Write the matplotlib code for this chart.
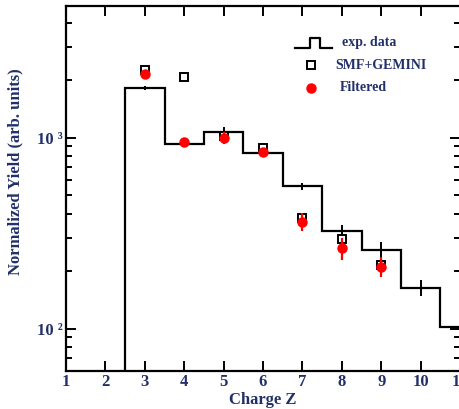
import numpy as np
import matplotlib.pyplot as plt
from matplotlib.ticker import FixedLocator, FuncFormatter, LogLocator, NullFormatter

# exp. data (histogram, one bin per charge)
z_exp = [3, 4, 5, 6, 7, 8, 9, 10, 11]
y_exp = [1830, 930, 1075, 834, 556, 326, 259, 164, 102]
err_exp = [45, 35, 60, 30, 25, 22, 25, 16, 8]

# SMF+GEMINI (open squares)
z_smf = [3, 4, 5, 6, 7, 8, 9]
y_smf = [2270, 2085, 1025, 889, 381, 296, 216]

# Filtered (red points)
z_filt = [3, 4, 5, 6, 7, 8, 9]
y_filt = [2160, 953, 1000, 845, 363, 265, 211]
err_filt = [60, 40, 70, 35, 40, 35, 25]

x_ticks = [1, 2, 3, 4, 5, 6, 7, 8, 9, 10, 11]

txt_col = '#22306a'
plt.rcParams['font.family'] = ['Liberation Serif', 'DejaVu Serif']
plt.rcParams['font.weight'] = 'bold'

fig = plt.figure(figsize=(4.59, 4.09), dpi=100)
ax = fig.add_axes([0.1438, 0.0929, 0.8584, 0.8924])

edges = np.array(z_exp + [z_exp[-1] + 1]) - 0.5
ax.stairs(y_exp, edges, baseline=1, color='black', lw=1.6, zorder=2)
ax.errorbar(z_exp, y_exp, yerr=err_exp, fmt='none', ecolor='black', elinewidth=1.4, capsize=0, zorder=2)

ax.plot(z_smf, y_smf, ls='none', marker='s', ms=6, mfc='white', mec='black', mew=1.4, zorder=3)
ax.errorbar(z_filt, y_filt, yerr=err_filt, fmt='o', color='red', ms=6.5, elinewidth=1.6, capsize=0, zorder=4)

ax.set_yscale('log')
ax.set_xlim(1, 11)
ax.set_ylim(60, 4900)

ax.xaxis.set_major_locator(FixedLocator(x_ticks))
ax.yaxis.set_major_locator(FixedLocator([100, 1000]))
ax.yaxis.set_minor_locator(LogLocator(base=10, subs=np.arange(2, 10)))
ax.yaxis.set_minor_formatter(NullFormatter())
sup = {2: '\u00b2', 3: '\u00b3'}
ax.yaxis.set_major_formatter(FuncFormatter(lambda v, p: '10 ' + sup[int(round(np.log10(v)))]))

ax.tick_params(which='both', direction='in', top=True, right=True, colors='black',
               labelcolor=txt_col, labelsize=12, width=1.4)
ax.tick_params(which='major', length=7, pad=2)
ax.tick_params(which='minor', length=4)
for lab in ax.get_xticklabels() + ax.get_yticklabels():
    lab.set_fontweight('bold')
for s in ax.spines.values():
    s.set_linewidth(1.6)

ax.set_xlabel('Charge Z', fontsize=12, fontweight='bold', color=txt_col)
ax.xaxis.set_label_coords(0.5, -0.057)
ax.set_ylabel('Normalized Yield (arb. units)', fontsize=12, fontweight='bold', color=txt_col)
ax.yaxis.set_label_coords(-0.107, 0.545)

# legend drawn by hand
tr = ax.transAxes
ax.plot([0.581, 0.619, 0.619, 0.645, 0.645, 0.675], [0.885, 0.885, 0.912, 0.912, 0.885, 0.885],
        color='black', lw=1.6, transform=tr, clip_on=False)
ax.plot([0.622], [0.838], marker='s', ms=6, mfc='white', mec='black', mew=1.4, transform=tr)
ax.plot([0.622], [0.776], marker='o', ms=6.5, color='red', transform=tr)
ax.text(0.701, 0.899, 'exp. data', transform=tr, fontsize=10, fontweight='bold', color=txt_col, va='center')
ax.text(0.683, 0.838, 'SMF+GEMINI', transform=tr, fontsize=10, fontweight='bold', color=txt_col, va='center')
ax.text(0.695, 0.778, 'Filtered', transform=tr, fontsize=10, fontweight='bold', color=txt_col, va='center')

fig.savefig('out.png', dpi=100)
